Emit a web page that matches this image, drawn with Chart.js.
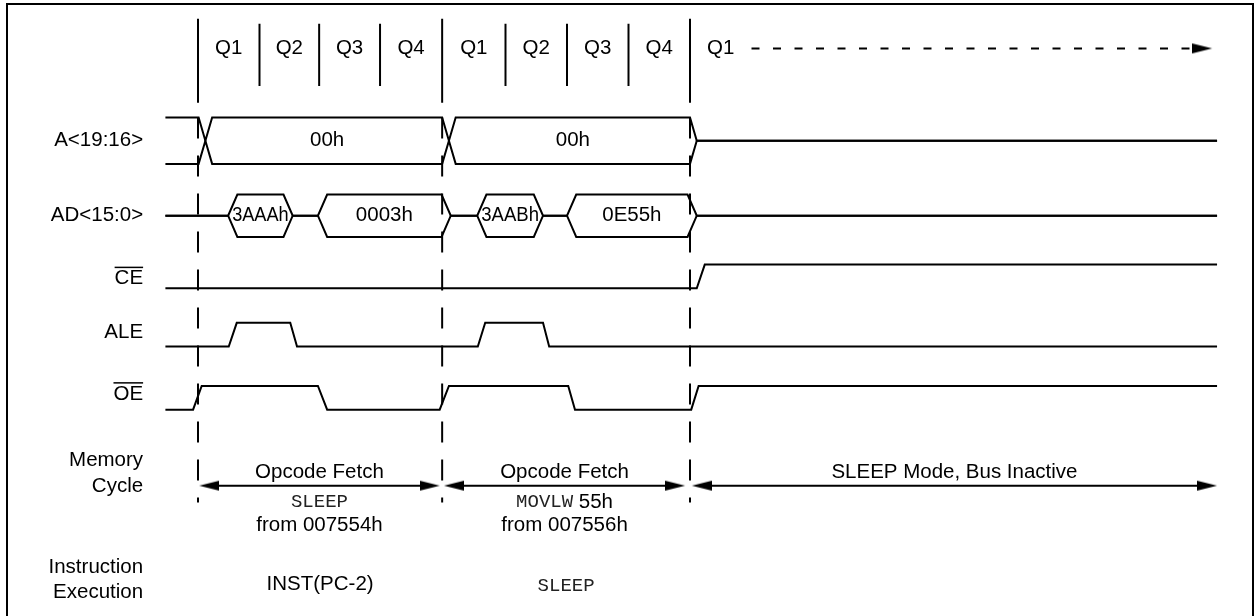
<!DOCTYPE html>
<html>
<head>
<meta charset="utf-8">
<script src="https://cdn.jsdelivr.net/npm/chart.js@4.4.0/dist/chart.umd.min.js"></script>
<style>
  html, body { margin: 0; padding: 0; background: #fff; }
</style>
</head>
<body>
<canvas id="timing" width="1255" height="616"></canvas>
<script>
// --- values (time in Q quarters, 0 = first fetch) ---

const qLabels = ['Q1', 'Q2', 'Q3', 'Q4', 'Q1', 'Q2', 'Q3', 'Q4', 'Q1'];
const cycleBounds = [0, 3.97, 8.0];
const quarterBounds = [1.0, 1.97, 2.96, 5.0, 6.0, 7.0];

const rowLabels = ['A<19:16>', 'AD<15:0>', 'CE', 'ALE', 'OE', ['Memory', 'Cycle'], ['Instruction', 'Execution']];
const overlined = ['CE', 'OE'];

// bus windows, from crossing point to crossing point
const aBusStart = [-0.53, 0.12, 4.08];
const aBusEnd = [0.12, 4.08, 8.11];
const aBusText = ['', '00h', '00h'];

const adBusStart = [0.49, 1.95, 4.54, 6.00];
const adBusEnd = [1.54, 4.11, 5.61, 8.11];
const adBusText = ['3AAAh', '0003h', '3AABh', '0E55h'];

// control lines: vertex times and levels (0 low, 1 high)
const ceTimes = [-0.53, 8.11, 8.24, 16.57];
const ceLevels = [0, 0, 1, 1];
const aleTimes = [-0.53, 0.50, 0.63, 1.50, 1.61, 4.55, 4.67, 5.61, 5.71, 16.57];
const aleLevels = [0, 0, 1, 1, 0, 0, 1, 1, 0, 0];
const oeTimes = [-0.53, -0.08, 0.06, 1.95, 2.10, 3.93, 4.08, 6.02, 6.13, 8.02, 8.14, 16.57];
const oeLevels = [0, 0, 1, 1, 0, 0, 1, 1, 0, 0, 1, 1];

// memory cycles
const memStart = [0.02, 4.00, 8.03];
const memEnd = [3.93, 7.92, 16.57];
const memTitle = ['Opcode Fetch', 'Opcode Fetch', 'SLEEP Mode, Bus Inactive'];
const memOpcode = ['SLEEP', 'MOVLW', ''];
const memOperand = ['', ' 55h', ''];
const memFrom = ['from 007554h', 'from 007556h', ''];

const execText = ['INST(PC-2)', 'SLEEP'];
const execMono = [false, true];

const q1ArrowFrom = 9.0;
const q1ArrowTo = 16.49;

// --- layout ---
const W = 1255, H = 616;
const X0 = 198, QW = 61.5;          // pixel of t = 0, pixels per quarter
const T_MIN = -0.6, T_MAX = 16.8;
const SIG_START = -0.53, SIG_END = 16.57;
const FS = 20.5;
const SANS = "'Liberation Sans', Arial, Helvetica, sans-serif";
const MONO = "'Liberation Mono', 'Courier New', monospace";

const LAY = {
  qText: 45, solidTop: 15, solidBot: 100, qTop: 20, qBot: 83, dashTop: 115, dashBot: 505,
  aTop: 115, aBot: 162, adTop: 193, adBot: 236,
  ceLow: 288, aleLow: 347, oeLow: 411, amp: 24,
  mem: 488, memTitle: 475, memMono: 505, memFrom: 528, exec: 588
};
const labelY = [138.5, 214, 278, 333, 395, 475.5, 583.5];
const TICK_PAD = 18;

// --- datasets ---
const datasets = [];

function addLine(points, extra) {
  datasets.push(Object.assign({
    data: points,
    showLine: true,
    borderColor: '#000',
    borderWidth: 2,
    borderCapStyle: 'butt',
    borderJoinStyle: 'miter',
    pointRadius: 0,
    fill: false,
    tension: 0
  }, extra || {}));
}

function levelLine(times, levels, low) {
  return times.map((t, i) => ({ x: t, y: low - levels[i] * LAY.amp }));
}

function busPaths(starts, ends, top, bot, w) {
  const mid = (top + bot) / 2;
  const up = [], dn = [];
  if (starts[0] > SIG_START) {
    up.push({ x: SIG_START, y: mid });
    dn.push({ x: SIG_START, y: mid });
  }
  starts.forEach((s, i) => {
    const e = ends[i];
    if (s <= SIG_START) {
      up.push({ x: s, y: top });
      dn.push({ x: s, y: bot });
    } else {
      up.push({ x: s, y: mid }, { x: s + w, y: top });
      dn.push({ x: s, y: mid }, { x: s + w, y: bot });
    }
    up.push({ x: e - w, y: top }, { x: e, y: mid });
    dn.push({ x: e - w, y: bot }, { x: e, y: mid });
  });
  up.push({ x: SIG_END, y: mid });
  dn.push({ x: SIG_END, y: mid });
  return [up, dn];
}

function arrowHead(dir) {
  const c = document.createElement('canvas');
  c.width = 40;
  c.height = 12;
  const g = c.getContext('2d');
  g.fillStyle = '#000';
  g.beginPath();
  if (dir > 0) {
    g.moveTo(0, 1); g.lineTo(20, 6); g.lineTo(0, 11);
  } else {
    g.moveTo(40, 1); g.lineTo(20, 6); g.lineTo(40, 11);
  }
  g.closePath();
  g.fill();
  return c;
}
const HEAD_R = arrowHead(1);
const HEAD_L = arrowHead(-1);

// clock grid
cycleBounds.forEach(b => {
  addLine([{ x: b, y: LAY.solidTop }, { x: b, y: LAY.solidBot }]);
  addLine([{ x: b, y: LAY.dashTop }, { x: b, y: LAY.dashBot }], { borderDash: [21, 17] });
});
quarterBounds.forEach(b => {
  addLine([{ x: b, y: LAY.qTop }, { x: b, y: LAY.qBot }]);
});

// Q1 - - - -> arrow
addLine([{ x: q1ArrowFrom, y: LAY.qText }, { x: q1ArrowTo - 0.3, y: LAY.qText }], { borderDash: [8, 13.5] });

// buses
busPaths(aBusStart, aBusEnd, LAY.aTop, LAY.aBot, 0.11).forEach(p => addLine(p));
busPaths(adBusStart, adBusEnd, LAY.adTop, LAY.adBot, 0.15).forEach(p => addLine(p));

// control lines
addLine(levelLine(ceTimes, ceLevels, LAY.ceLow));
addLine(levelLine(aleTimes, aleLevels, LAY.aleLow));
addLine(levelLine(oeTimes, oeLevels, LAY.oeLow));

// memory cycle arrows
const headPts = [], headStyles = [];
memStart.forEach((s, i) => {
  const e = memEnd[i];
  addLine([{ x: s + 0.16, y: LAY.mem }, { x: e - 0.16, y: LAY.mem }]);
  headPts.push({ x: s, y: LAY.mem }, { x: e, y: LAY.mem });
  headStyles.push(HEAD_L, HEAD_R);
});
headPts.push({ x: q1ArrowTo, y: LAY.qText });
headStyles.push(HEAD_R);

datasets.push({
  data: headPts,
  showLine: false,
  pointStyle: headStyles,
  pointRadius: 1,
  borderWidth: 0
});

// --- text drawn on top through the scales ---
const textPlugin = {
  id: 'diagramText',
  afterDraw(chart) {
    const { ctx, scales: { x, y } } = chart;
    const px = t => x.getPixelForValue(t);
    const py = v => y.getPixelForValue(v);
    const sans = `${FS}px ${SANS}`;
    const mono = `19px ${MONO}`;

    ctx.save();
    ctx.fillStyle = '#000';
    ctx.strokeStyle = '#000';
    ctx.textBaseline = 'middle';
    ctx.textAlign = 'center';
    ctx.font = sans;

    const bounds = [...cycleBounds, ...quarterBounds].sort((a, b) => a - b);
    qLabels.forEach((q, i) => {
      const t = i < bounds.length - 1 ? (bounds[i] + bounds[i + 1]) / 2 : bounds[i] + 0.5;
      ctx.fillText(q, px(t), py(LAY.qText));
    });

    const aMid = (LAY.aTop + LAY.aBot) / 2;
    aBusText.forEach((s, i) => {
      if (s) ctx.fillText(s, px((aBusStart[i] + aBusEnd[i]) / 2), py(aMid));
    });
    const adMid = (LAY.adTop + LAY.adBot) / 2;
    adBusText.forEach((s, i) => {
      const w = px(adBusEnd[i]) - px(adBusStart[i]) - 8;
      ctx.fillText(s, px((adBusStart[i] + adBusEnd[i]) / 2), py(adMid), w);
    });

    memTitle.forEach((s, i) => {
      const cx = px((memStart[i] + memEnd[i]) / 2);
      ctx.font = sans;
      ctx.textAlign = 'center';
      ctx.fillText(s, cx, py(LAY.memTitle));
      if (memFrom[i]) ctx.fillText(memFrom[i], cx, py(LAY.memFrom));
      if (memOpcode[i]) {
        ctx.font = mono;
        const w1 = ctx.measureText(memOpcode[i]).width;
        ctx.font = sans;
        const w2 = memOperand[i] ? ctx.measureText(memOperand[i]).width : 0;
        const left = cx - (w1 + w2) / 2;
        ctx.textAlign = 'left';
        ctx.font = mono;
        ctx.fillStyle = '#222';
        ctx.fillText(memOpcode[i], left, py(LAY.memMono));
        ctx.fillStyle = '#000';
        if (w2) {
          ctx.font = sans;
          ctx.fillText(memOperand[i], left + w1, py(LAY.memMono));
        }
      }
    });

    ctx.textAlign = 'center';
    execText.forEach((s, i) => {
      const cx = px((cycleBounds[i] + cycleBounds[i + 1]) / 2);
      ctx.font = execMono[i] ? mono : sans;
      ctx.fillStyle = execMono[i] ? '#222' : '#000';
      ctx.fillText(s, cx, py(LAY.exec) + (execMono[i] ? 2 : 0));
    });

    // overbars on active-low signal names
    ctx.font = sans;
    ctx.fillStyle = '#000';
    ctx.lineWidth = 1.5;
    rowLabels.forEach((lab, i) => {
      if (!overlined.includes(lab)) return;
      const w = ctx.measureText(lab).width;
      const right = y.right - TICK_PAD;
      const yy = py(labelY[i]) - 11;
      ctx.beginPath();
      ctx.moveTo(right - w, yy);
      ctx.lineTo(right, yy);
      ctx.stroke();
    });

    // frame
    ctx.lineWidth = 2;
    ctx.strokeRect(7, 4, 1246, H + 10);
    ctx.restore();
  }
};

Chart.defaults.font.family = SANS;
Chart.defaults.font.size = FS;
Chart.defaults.color = '#000';

new Chart(document.getElementById('timing'), {
  type: 'scatter',
  data: { datasets },
  options: {
    responsive: false,
    devicePixelRatio: 1,
    animation: false,
    events: [],
    layout: {
      padding: { left: 0, top: 0, bottom: 0, right: W - (X0 + T_MAX * QW) }
    },
    plugins: {
      legend: { display: false },
      tooltip: { enabled: false }
    },
    scales: {
      x: { type: 'linear', min: T_MIN, max: T_MAX, display: false },
      y: {
        type: 'linear',
        min: 0,
        max: H,
        reverse: true,
        position: 'left',
        grid: { display: false, drawTicks: false },
        border: { display: false },
        afterBuildTicks: s => { s.ticks = labelY.map(v => ({ value: v })); },
        afterFit: s => {
          s.width = X0 + T_MIN * QW;
          s.paddingTop = 0;
          s.paddingBottom = 0;
        },
        ticks: {
          autoSkip: false,
          padding: TICK_PAD,
          color: '#000',
          font: { size: FS, lineHeight: 1.25 },
          callback: (v, i) => rowLabels[i]
        }
      }
    }
  },
  plugins: [textPlugin]
});
</script>
</body>
</html>
